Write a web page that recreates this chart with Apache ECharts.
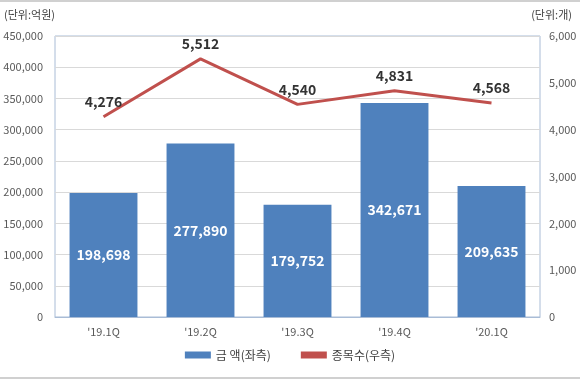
<!DOCTYPE html>
<html><head><meta charset="utf-8">
<script src="https://cdn.jsdelivr.net/npm/echarts@6/dist/echarts.min.js"></script>
<style>html,body{margin:0;padding:0;background:#fff}#c{width:580px;height:380px}</style>
</head><body><div id="c"></div>
<script>
const categories = ["'19.1Q", "'19.2Q", "'19.3Q", "'19.4Q", "'20.1Q"];
const amountValues = [198698, 277890, 179752, 342671, 209635];
const countValues = [4276, 5512, 4540, 4831, 4568];
const amountName = '금 액(좌측)';
const countName = '종목수(우측)';
const leftUnit = '(단위:억원)';
const rightUnit = '(단위:개)';

const FONT = '"Noto Sans CJK KR", "Malgun Gothic", sans-serif';
const chart = echarts.init(document.getElementById('c'), null, {renderer: 'canvas'});
const fmt = v => Number(v).toLocaleString('en-US');
chart.setOption({
  animation: false,
  textStyle: {fontFamily: FONT},
  graphic: [
    {type: 'line', shape: {x1: 0, y1: 1, x2: 580, y2: 1}, style: {stroke: '#d0d0d0', lineWidth: 2}},
    {type: 'line', shape: {x1: 0, y1: 378, x2: 580, y2: 378}, style: {stroke: '#d0d0d0', lineWidth: 2}},
    {type: 'text', left: 4, top: 9, style: {text: leftUnit, font: '11px ' + FONT, fill: '#404040'}},
    {type: 'text', right: 8, top: 9, style: {text: rightUnit, font: '11px ' + FONT, fill: '#404040'}}
  ],
  grid: {left: 55, right: 40, top: 36, bottom: 63, show: true, borderColor: '#a9bcd6', borderWidth: 1},
  legend: {
    bottom: 14, left: 'center', itemGap: 30, itemWidth: 26, itemHeight: 7,
    textStyle: {fontSize: 12, color: '#404040', fontFamily: FONT},
    data: [
      {name: amountName, icon: 'rect'},
      {name: countName, icon: 'rect', itemStyle: {color: '#c0504d'}}
    ]
  },
  xAxis: {
    type: 'category', data: categories,
    axisLine: {show: true, lineStyle: {color: '#a9bcd6'}},
    axisTick: {show: false},
    axisLabel: {color: '#595959', fontSize: 11, margin: 9}
  },
  yAxis: [
    {type: 'value', min: 0, max: 450000, interval: 50000,
     axisLine: {show: false}, axisTick: {show: false},
     splitLine: {lineStyle: {color: '#d9d9d9'}},
     axisLabel: {color: '#595959', fontSize: 11, margin: 12, formatter: fmt}},
    {type: 'value', min: 0, max: 6000, interval: 1000,
     axisLine: {show: false}, axisTick: {show: false}, splitLine: {show: false},
     axisLabel: {color: '#595959', fontSize: 11, margin: 9, align: 'left', formatter: fmt}}
  ],
  series: [
    {name: amountName, type: 'bar', data: amountValues, barWidth: '70%',
     itemStyle: {color: '#4f81bd'},
     label: {show: true, position: 'inside', color: '#fff', fontWeight: 'bold', fontSize: 14, formatter: p => fmt(p.value)}},
    {name: countName, type: 'line', yAxisIndex: 1, data: countValues,
     symbol: 'circle', symbolSize: 0.1, showSymbol: true,
     lineStyle: {color: '#c0504d', width: 3}, itemStyle: {color: '#c0504d'},
     label: {show: true, position: 'top', distance: 8, color: '#333', fontWeight: 'bold', fontSize: 14, formatter: p => fmt(p.value)}}
  ]
});
</script></body></html>
